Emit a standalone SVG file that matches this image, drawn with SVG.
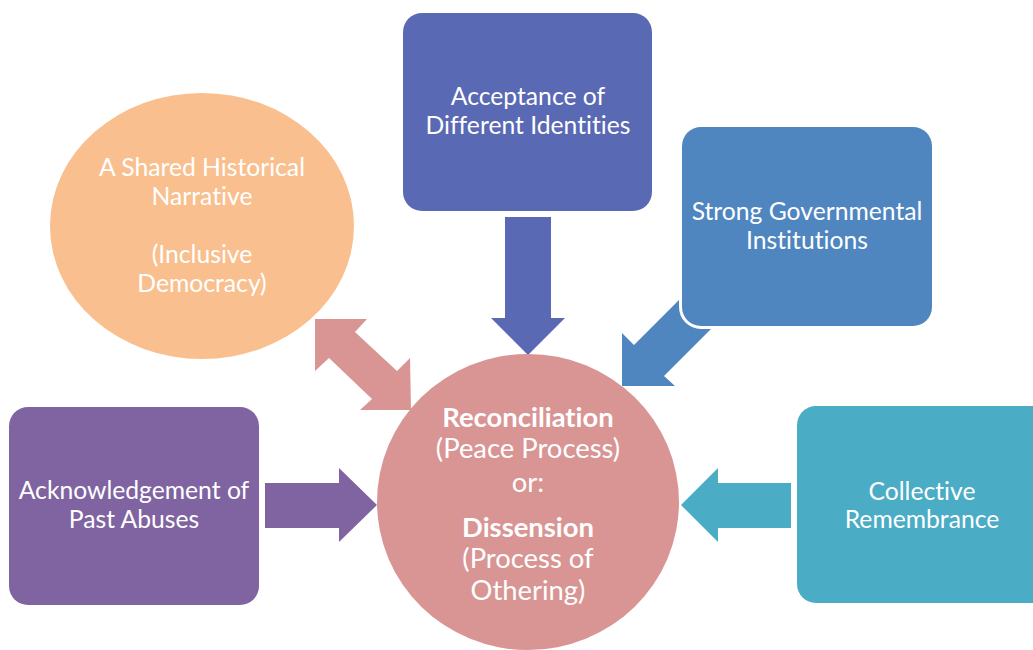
<svg xmlns="http://www.w3.org/2000/svg" width="1033" height="650" viewBox="0 0 1033 650">
  <style>
    .lbl { font-family: Lato, "Liberation Sans", sans-serif; font-size: 24.7px; fill: #ffffff; text-anchor: middle; font-variant-ligatures: none; }
    .hub { font-family: Lato, "Liberation Sans", sans-serif; font-size: 27.4px; fill: #ffffff; text-anchor: middle; font-variant-ligatures: none; }
    .bold { font-weight: bold; }
  </style>
  <rect width="1033" height="650" fill="#ffffff"/>

  <!-- block arrows into the hub -->
  <g id="connectors">
    <!-- two-way arrow: narrative <-> hub -->
    <polygon fill="#D99594" points="315,319 367,319 355,332 397,371 410,358 411,410 360,410 372,399 329,358 315,371"/>
    <!-- identities -> hub -->
    <polygon fill="#5A69B4" points="505,217 551,217 551,318 565,318 528,355 491,318 505,318"/>
    <!-- institutions -> hub (runs under the box) -->
    <polygon fill="#4F86C0" points="622,386 622,333 634,345 700,279 722,300 720,320 664,376 675,386"/>
    <!-- abuses -> hub -->
    <polygon fill="#8064A2" points="265,483 339,483 339,468 377,505 339,542 339,528 265,528"/>
    <!-- remembrance -> hub -->
    <polygon fill="#4BACC6" points="791,483 718,483 718,468 681,505 718,542 718,528 791,528"/>
  </g>

  <g id="hub">
    <ellipse cx="528" cy="502" rx="151" ry="148" fill="#D99594"/>
    <text class="hub bold" x="528" y="427">Reconciliation</text>
    <text class="hub" x="528" y="458">(Peace Process)</text>
    <text class="hub" x="528" y="492">or:</text>
    <text class="hub bold" x="528" y="537">Dissension</text>
    <text class="hub" x="528" y="568">(Process of</text>
    <text class="hub" x="528" y="600">Othering)</text>
  </g>

  <g id="narrative">
    <ellipse cx="202" cy="226" rx="152" ry="133" fill="#F9BF8F"/>
    <text class="lbl" x="202" y="176">A Shared Historical</text>
    <text class="lbl" x="202" y="205">Narrative</text>
    <text class="lbl" x="202" y="263">(Inclusive</text>
    <text class="lbl" x="202" y="292">Democracy)</text>
  </g>

  <g id="identities">
    <rect x="403" y="13" width="249" height="198" rx="19" fill="#5A69B4"/>
    <text class="lbl" x="528" y="105">Acceptance of</text>
    <text class="lbl" x="528" y="134">Different Identities</text>
  </g>

  <g id="institutions">
    <rect x="679" y="124" width="256" height="205" rx="22" fill="#ffffff"/>
    <rect x="682" y="127" width="250" height="199" rx="19" fill="#4F86C0"/>
    <text class="lbl" x="807" y="220">Strong Governmental</text>
    <text class="lbl" x="807" y="249">Institutions</text>
  </g>

  <g id="abuses">
    <rect x="9" y="407" width="250" height="198" rx="19" fill="#8064A2"/>
    <text class="lbl" x="134" y="499">Acknowledgement of</text>
    <text class="lbl" x="134" y="528">Past Abuses</text>
  </g>

  <g id="remembrance">
    <rect x="797" y="406" width="260" height="197" rx="19" fill="#4BACC6"/>
    <text class="lbl" x="922" y="500">Collective</text>
    <text class="lbl" x="922" y="528">Remembrance</text>
  </g>
</svg>
